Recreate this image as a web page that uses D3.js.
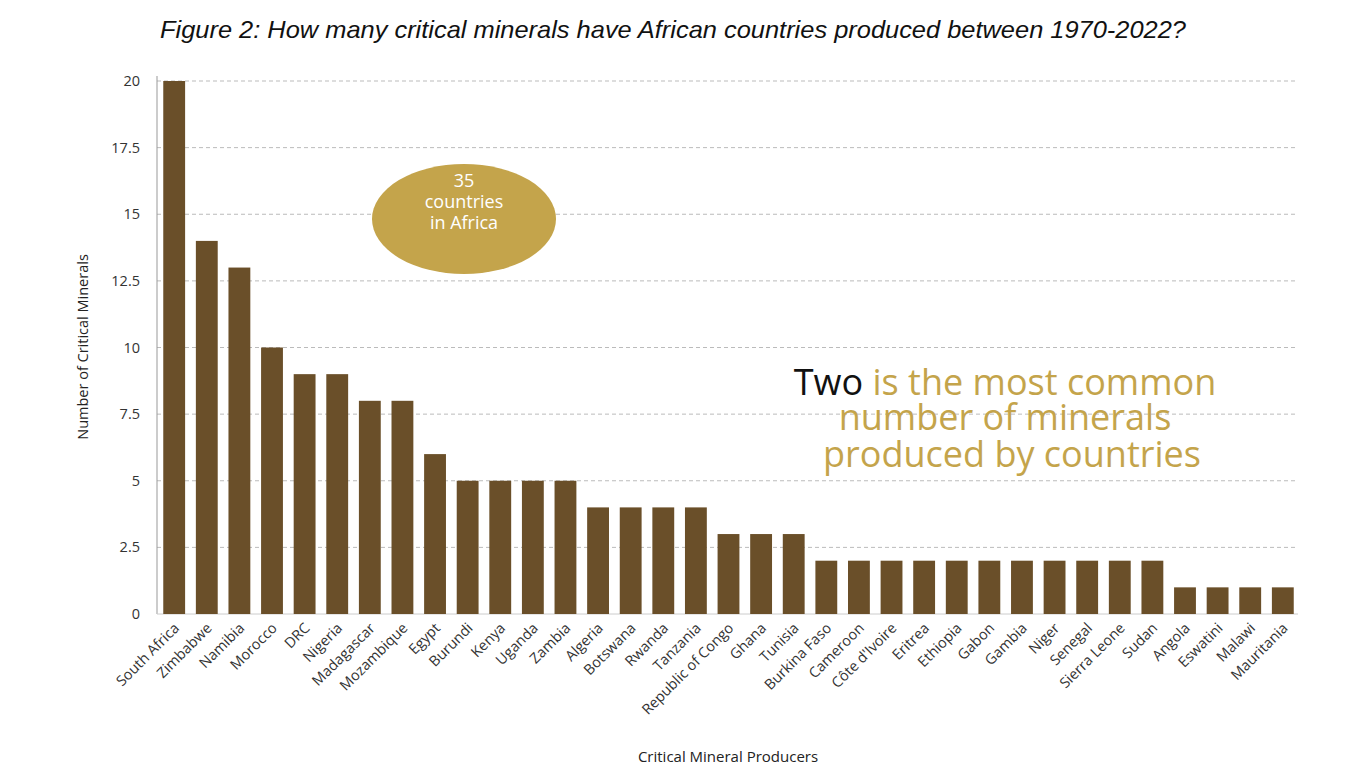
<!DOCTYPE html>
<html><head><meta charset="utf-8">
<script src="https://cdn.jsdelivr.net/npm/d3@7"></script>
<style>body{margin:0;background:#fff}svg{display:block}</style>
</head><body><svg id="c" width="1362" height="780"></svg>
<script>
const countries = ['South Africa','Zimbabwe','Namibia','Morocco','DRC','Nigeria','Madagascar','Mozambique','Egypt','Burundi','Kenya','Uganda','Zambia','Algeria','Botswana','Rwanda','Tanzania','Republic of Congo','Ghana','Tunisia','Burkina Faso','Cameroon',"Côte d'Ivoire",'Eritrea','Ethiopia','Gabon','Gambia','Niger','Senegal','Sierra Leone','Sudan','Angola','Eswatini','Malawi','Mauritania'];
const minerals = [20,14,13,10,9,9,8,8,6,5,5,5,5,4,4,4,4,3,3,3,2,2,2,2,2,2,2,2,2,2,2,1,1,1,1];
const yTicks = [0,2.5,5,7.5,10,12.5,15,17.5,20];

const svg = d3.select('#c');
const x = d3.scaleBand().domain(countries).range([160, 1297]).paddingInner(0.33).paddingOuter(0.1);
const y = d3.scaleLinear().domain([0, 20]).range([614, 81]);

// grid
svg.append('g').selectAll('line').data(yTicks.filter(d => d > 0)).join('line')
  .attr('x1', 157).attr('x2', 1298).attr('y1', d => y(d)).attr('y2', d => y(d))
  .attr('stroke', '#bbb').attr('stroke-dasharray', '4,3');

svg.append('line').attr('x1', 157).attr('x2', 157).attr('y1', 76).attr('y2', 614).attr('stroke', '#999');
svg.append('line').attr('x1', 157).attr('x2', 1298).attr('y1', 614).attr('y2', 614).attr('stroke', '#ccc');

// y tick labels
svg.append('g').selectAll('text').data(yTicks).join('text')
  .attr('x', 140).attr('y', d => y(d)).attr('dy', '0.35em').attr('text-anchor', 'end')
  .attr('font-family', 'Open Sans, sans-serif').attr('font-size', 14.5).attr('fill', '#333')
  .text(d => d);

// bars
svg.append('g').selectAll('rect').data(minerals).join('rect')
  .attr('x', (d, i) => x(countries[i])).attr('width', x.bandwidth())
  .attr('y', d => y(d)).attr('height', d => y(0) - y(d)).attr('fill', '#6a4f29');

// x labels
svg.append('g').selectAll('text').data(countries).join('text')
  .attr('transform', d => `translate(${x(d) + x.bandwidth() / 2 + 6},${629}) rotate(-45)`)
  .attr('text-anchor', 'end').attr('font-family', 'Open Sans, sans-serif').attr('font-size', 14.5).attr('fill', '#333')
  .text(d => d);

// axis titles
svg.append('text').attr('transform', 'translate(88,347) rotate(-90)').attr('text-anchor', 'middle')
  .attr('font-family', 'Open Sans, sans-serif').attr('font-size', 14.5).attr('fill', '#222').text('Number of Critical Minerals');
svg.append('text').attr('x', 728).attr('y', 762).attr('text-anchor', 'middle')
  .attr('font-family', 'Open Sans, sans-serif').attr('font-size', 15).attr('fill', '#222').text('Critical Mineral Producers');

// title
svg.append('text').attr('x', 160).attr('y', 38).attr('font-family', 'Liberation Sans, Arial, sans-serif')
  .attr('font-style', 'italic').attr('font-size', 24).attr('fill', '#111')
  .attr('textLength', 1026).attr('lengthAdjust', 'spacingAndGlyphs')
  .text('Figure 2: How many critical minerals have African countries produced between 1970-2022?');

// bubble
svg.append('ellipse').attr('cx', 464).attr('cy', 219).attr('rx', 92).attr('ry', 55).attr('fill', '#c4a44b');
svg.append('text').attr('x', 464).attr('y', 187).attr('text-anchor', 'middle').attr('fill', '#fff')
  .attr('font-family', 'Open Sans, sans-serif').attr('font-size', 18)
  .selectAll('tspan').data(['35', 'countries', 'in Africa']).join('tspan')
  .attr('x', 464).attr('dy', (d, i) => i ? 21 : 0).text(d => d);

// annotation
const ann = svg.append('text').attr('text-anchor', 'middle').attr('font-family', 'Open Sans, sans-serif')
  .attr('font-size', 36).attr('font-weight', 400).attr('fill', '#c4a44b');
const l1 = ann.append('tspan').attr('x', 1005).attr('y', 395);
l1.append('tspan').attr('fill', '#111').text('Two');
l1.append('tspan').text(' is the most common');
ann.append('tspan').attr('x', 1005).attr('y', 430).text('number of minerals');
ann.append('tspan').attr('x', 1012).attr('y', 467).text('produced by countries');
</script></body></html>
